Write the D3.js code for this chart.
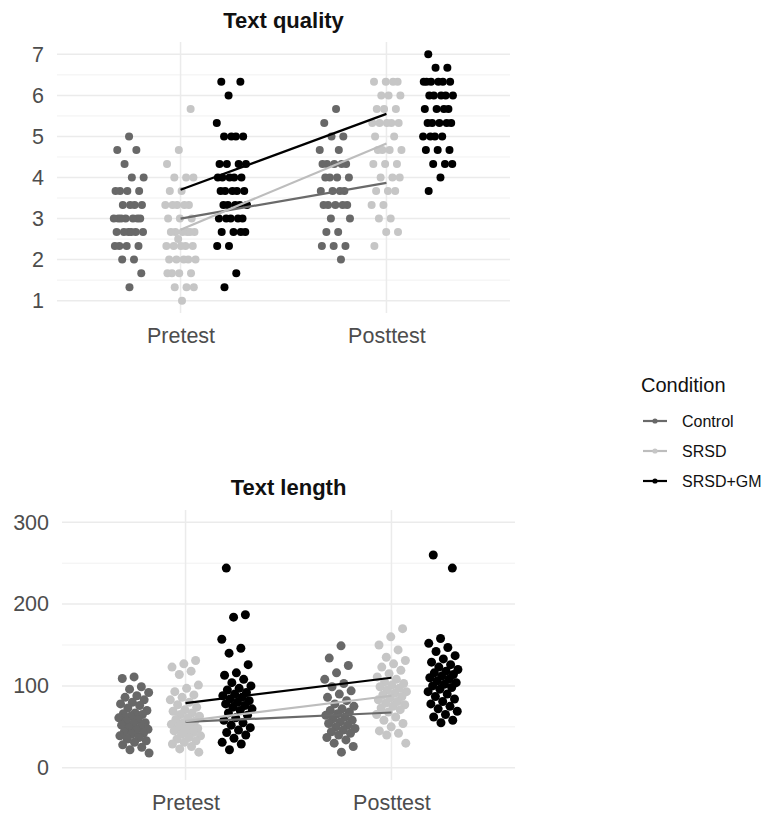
<!DOCTYPE html>
<html>
<head>
<meta charset="utf-8">
<script src="https://cdn.jsdelivr.net/npm/d3@7"></script>
<style>
  body { margin: 0; background: #fff; }
  svg { display: block; font-family: "Liberation Sans", Arial, Helvetica, sans-serif; }
</style>
</head>
<body>
<svg id="chart" width="767" height="818"></svg>
<script>
// ---------------- DATA ----------------
const times = ["Pretest", "Posttest"];
const conditions = ["Control", "SRSD", "SRSD+GM"];
const qualityTicks = [1, 2, 3, 4, 5, 6, 7];
const lengthTicks = [0, 100, 200, 300];

// Text quality (individual scores)
const qualityPreControl = [5.0, 4.67, 4.67, 4.33, 4.0, 4.0, 3.67, 3.67, 3.67, 3.67, 3.33, 3.33, 3.33, 3.33,
  3.0, 3.0, 3.0, 3.0, 3.0, 3.0, 3.0, 2.67, 2.67, 2.67, 2.67, 2.67, 2.67, 2.33, 2.33, 2.33, 2.33,
  2.0, 2.0, 1.67, 1.33];
const qualityPreSRSD = [5.67, 4.67, 4.33, 4.0, 4.0, 4.0, 3.67, 3.67, 3.33, 3.33, 3.33, 3.33, 3.33,
  3.0, 3.0, 3.0, 2.67, 2.67, 2.67, 2.67, 2.67, 2.67, 2.5, 2.33, 2.33, 2.33, 2.33, 2.33,
  2.0, 2.0, 2.0, 2.0, 2.0, 1.67, 1.67, 1.67, 1.67, 1.33, 1.33, 1.33, 1.0];
const qualityPreGM = [6.33, 6.33, 6.0, 5.33, 5.0, 5.0, 5.0, 5.0, 4.33, 4.33, 4.33, 4.33,
  4.0, 4.0, 4.0, 4.0, 4.0, 3.67, 3.67, 3.67, 3.67, 3.67, 3.33, 3.33, 3.33, 3.33, 3.33,
  3.0, 3.0, 3.0, 3.0, 3.0, 2.67, 2.67, 2.67, 2.67, 2.33, 2.33, 1.67, 1.33];
const qualityPostControl = [5.67, 5.33, 5.0, 5.0, 4.67, 4.67, 4.33, 4.33, 4.33, 4.33, 4.33,
  4.0, 4.0, 4.0, 4.0, 3.67, 3.67, 3.67, 3.67, 3.33, 3.33, 3.33, 3.33, 3.33,
  3.0, 3.0, 2.67, 2.67, 2.33, 2.33, 2.33, 2.0];
const qualityPostSRSD = [6.33, 6.33, 6.33, 6.33, 6.0, 6.0, 6.0, 5.67, 5.67, 5.67, 5.33, 5.33, 5.33, 5.33, 5.33,
  5.0, 5.0, 4.67, 4.67, 4.67, 4.67, 4.33, 4.33, 4.33, 4.0, 4.0, 4.0, 3.67, 3.67, 3.67,
  3.33, 3.33, 3.0, 3.0, 2.67, 2.67, 2.33];
const qualityPostGM = [7.0, 6.67, 6.67, 6.33, 6.33, 6.33, 6.33, 6.33, 6.33, 6.0, 6.0, 6.0, 6.0, 6.0,
  5.67, 5.67, 5.67, 5.67, 5.33, 5.33, 5.33, 5.33, 5.33, 5.0, 5.0, 5.0, 5.0,
  4.67, 4.67, 4.67, 4.33, 4.33, 4.33, 4.0, 3.67];
// Text quality: line values (Pretest, Posttest)
const qualityLineControl = [3.0, 3.87];
const qualityLineSRSD = [2.73, 4.83];
const qualityLineGM = [3.70, 5.55];

// Text length (words)
const lengthPreControl = [111, 109, 99, 96, 92, 88, 86, 83, 80, 78, 76, 73, 70, 67, 66, 65, 63, 61, 59, 57,
  55, 54, 52, 50, 49, 47, 46, 44, 42, 41, 39, 37, 35, 33, 31, 28, 25, 22, 18];
const lengthPreSRSD = [131, 127, 123, 118, 114, 101, 97, 93, 89, 86, 83, 80, 77, 74, 71, 69, 67, 65, 63, 61,
  59, 57, 55, 53, 52, 50, 48, 46, 45, 43, 41, 39, 37, 35, 33, 31, 29, 26, 23, 19];
const lengthPreGM = [244, 187, 184, 157, 146, 140, 126, 116, 113, 108, 104, 100, 97, 95, 92, 90, 88, 86, 84, 82,
  80, 78, 76, 74, 72, 70, 67, 64, 61, 58, 55, 52, 49, 46, 43, 40, 36, 31, 29, 22];
const lengthPostControl = [149, 134, 125, 116, 108, 103, 99, 94, 90, 86, 82, 78, 75, 72, 70, 68, 66, 64, 62, 60,
  58, 56, 54, 52, 50, 48, 46, 44, 42, 40, 37, 34, 30, 26, 19];
const lengthPostSRSD = [170, 160, 150, 144, 135, 131, 127, 123, 119, 115, 111, 108, 105, 103, 101, 99, 97, 95, 93, 91,
  89, 87, 85, 83, 81, 79, 77, 75, 73, 71, 68, 65, 62, 58, 54, 50, 45, 42, 40, 30];
const lengthPostGM = [260, 244, 158, 152, 147, 142, 137, 133, 129, 126, 123, 120, 118, 116, 114, 112, 110, 108, 106, 104,
  102, 100, 98, 96, 93, 90, 87, 84, 81, 78, 75, 72, 69, 65, 62, 58, 55];
// Text length: line values (Pretest, Posttest)
const lengthLineControl = [56, 67.5];
const lengthLineSRSD = [57, 88];
const lengthLineGM = [79, 110];

// ---------------- STYLE ----------------
const colors = { "Control": "#686868", "SRSD": "#c6c6c6", "SRSD+GM": "#000000" };
const lineColors = { "Control": "#6a6a6a", "SRSD": "#bdbdbd", "SRSD+GM": "#000000" };
const dodge = { "Control": -0.25, "SRSD": 0, "SRSD+GM": 0.25 };

const svg = d3.select("#chart");

function makePoints(spec) {
  const pts = [];
  conditions.forEach((c, ci) => {
    times.forEach((t, ti) => {
      const arr = spec[c][ti];
      arr.forEach((v, i) => {
        // deterministic horizontal jitter (golden-ratio sequence)
        const u = ((0.5 + (i + ci * 7 + ti * 13) * 0.6180339887) % 1) * 2 - 1;
        pts.push({ cond: c, time: t, value: v, jit: u });
      });
    });
  });
  return pts;
}

function drawPanel(opts) {
  const { left, right, top, bottom, domain, ticks, minor, title, titleY, spec, lines, radius } = opts;
  const g = svg.append("g");
  const x = d3.scalePoint().domain(times).range([left, right]).padding(0.6);
  const step = x.step();
  const y = d3.scaleLinear().domain(domain).range([bottom, top]);

  // grid
  g.append("g").selectAll("line").data(minor).join("line")
    .attr("x1", left).attr("x2", right)
    .attr("y1", d => y(d)).attr("y2", d => y(d))
    .attr("stroke", "#ededed").attr("stroke-width", 0.8);
  g.append("g").selectAll("line").data(ticks).join("line")
    .attr("x1", left).attr("x2", right)
    .attr("y1", d => y(d)).attr("y2", d => y(d))
    .attr("stroke", "#ebebeb").attr("stroke-width", 1.5);
  g.append("g").selectAll("line").data(times).join("line")
    .attr("x1", d => x(d)).attr("x2", d => x(d))
    .attr("y1", top).attr("y2", bottom)
    .attr("stroke", "#ebebeb").attr("stroke-width", 1.5);

  // axes
  const ya = g.append("g").attr("transform", `translate(${left},0)`)
    .call(d3.axisLeft(y).tickValues(ticks).tickFormat(d3.format("d")).tickSize(0).tickPadding(13));
  ya.select(".domain").remove();
  ya.selectAll("text").attr("font-size", 21.5).attr("fill", "#4d4d4d")
    .style("font-family", "'Liberation Sans', Arial, sans-serif");

  const xa = g.append("g").attr("transform", `translate(0,${bottom})`)
    .call(d3.axisBottom(x).tickSize(0).tickPadding(15));
  xa.select(".domain").remove();
  xa.selectAll("text").attr("font-size", 21.5).attr("fill", "#4d4d4d")
    .style("font-family", "'Liberation Sans', Arial, sans-serif");

  // points
  const pts = makePoints(spec);
  g.append("g").selectAll("circle").data(pts).join("circle")
    .attr("cx", d => x(d.time) + (dodge[d.cond] + d.jit * 0.075) * step)
    .attr("cy", d => y(d.value))
    .attr("r", radius)
    .attr("fill", d => colors[d.cond]);

  // lines
  const lineGen = d3.line().x((d, i) => x(times[i])).y(d => y(d));
  conditions.forEach(c => {
    g.append("path").attr("d", lineGen(lines[c]))
      .attr("fill", "none").attr("stroke", lineColors[c]).attr("stroke-width", 2.2);
  });

  // title
  g.append("text").attr("x", (left + right) / 2).attr("y", titleY)
    .attr("text-anchor", "middle").attr("font-size", 22).attr("font-weight", "bold")
    .attr("fill", "#111").text(title);
}

drawPanel({
  left: 57, right: 510, top: 42, bottom: 313,
  domain: [0.7, 7.3], ticks: qualityTicks, minor: [1.5, 2.5, 3.5, 4.5, 5.5, 6.5],
  title: "Text quality", titleY: 28, radius: 4,
  spec: {
    "Control": [qualityPreControl, qualityPostControl],
    "SRSD": [qualityPreSRSD, qualityPostSRSD],
    "SRSD+GM": [qualityPreGM, qualityPostGM]
  },
  lines: { "Control": qualityLineControl, "SRSD": qualityLineSRSD, "SRSD+GM": qualityLineGM }
});

drawPanel({
  left: 62, right: 515, top: 510, bottom: 780,
  domain: [-15, 315], ticks: lengthTicks, minor: [50, 150, 250],
  title: "Text length", titleY: 495, radius: 4.5,
  spec: {
    "Control": [lengthPreControl, lengthPostControl],
    "SRSD": [lengthPreSRSD, lengthPostSRSD],
    "SRSD+GM": [lengthPreGM, lengthPostGM]
  },
  lines: { "Control": lengthLineControl, "SRSD": lengthLineSRSD, "SRSD+GM": lengthLineGM }
});

// legend
const lg = svg.append("g");
lg.append("text").attr("x", 641).attr("y", 392).attr("font-size", 20).attr("fill", "#111").text("Condition");
const ly = d3.scalePoint().domain(conditions).range([421, 481]);
conditions.forEach(c => {
  const yy = ly(c);
  lg.append("line").attr("x1", 643).attr("x2", 667).attr("y1", yy).attr("y2", yy)
    .attr("stroke", lineColors[c]).attr("stroke-width", 2.2);
  lg.append("circle").attr("cx", 655).attr("cy", yy).attr("r", 2.6).attr("fill", colors[c]);
  lg.append("text").attr("x", 682).attr("y", yy).attr("dy", "0.35em")
    .attr("font-size", 16).attr("fill", "#111").text(c);
});
</script>
</body>
</html>
